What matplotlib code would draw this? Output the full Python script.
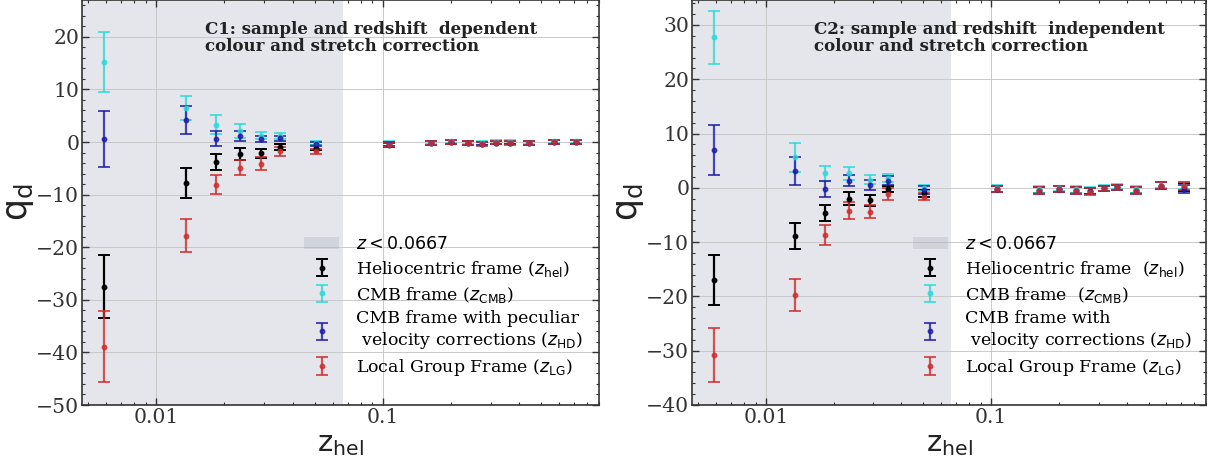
import matplotlib
matplotlib.use("Agg")
import matplotlib.pyplot as plt
from matplotlib.ticker import MultipleLocator, FixedLocator, FixedFormatter, LogLocator, NullFormatter
import numpy as np

plt.rcParams['font.family'] = ['DejaVu Serif']
plt.rcParams['mathtext.fontset'] = 'dejavusans'

# redshift bins (shared by both panels)
z_bins = [0.0059, 0.0135, 0.0184, 0.0233, 0.029, 0.035, 0.0505,
          0.1066, 0.164, 0.2, 0.238, 0.274, 0.316, 0.364, 0.44, 0.57, 0.716]

# C1: sample and redshift dependent correction
c1_hel = [-27.5, -7.8, -3.85, -2.3, -2.1, -1.0, -1.1,
          -0.5, -0.2, 0.0, -0.2, -0.3, -0.1, -0.1, -0.2, 0.0, 0.0]
c1_hel_err = [6.0, 2.8, 1.55, 1.2, 0.85, 0.6, 0.5,
              0.4, 0.35, 0.35, 0.35, 0.35, 0.35, 0.35, 0.35, 0.35, 0.35]
c1_cmb = [15.3, 6.5, 3.3, 2.1, 1.2, 1.1, -0.2,
          -0.3, -0.1, 0.1, -0.1, -0.2, 0.0, 0.0, -0.1, 0.1, 0.1]
c1_cmb_err = [5.7, 2.3, 1.8, 1.4, 0.7, 0.6, 0.4,
              0.4, 0.35, 0.35, 0.35, 0.35, 0.35, 0.35, 0.35, 0.35, 0.35]
c1_hd = [0.6, 4.2, 0.6, 1.1, 0.6, 0.7, -0.4,
         -0.4, -0.2, 0.0, -0.2, -0.3, -0.1, -0.1, -0.2, 0.0, 0.0]
c1_hd_err = [5.35, 2.65, 1.45, 0.95, 0.6, 0.5, 0.4,
             0.4, 0.35, 0.35, 0.35, 0.35, 0.35, 0.35, 0.35, 0.35, 0.35]
c1_lg = [-38.9, -17.8, -8.1, -4.9, -4.1, -1.8, -1.8,
         -0.6, -0.2, 0.0, -0.2, -0.35, -0.1, -0.15, -0.25, 0.0, -0.05]
c1_lg_err = [6.8, 3.1, 1.8, 1.45, 1.25, 0.8, 0.5,
             0.4, 0.35, 0.35, 0.35, 0.35, 0.35, 0.35, 0.35, 0.35, 0.35]

# C2: sample and redshift independent correction
c2_hel = [-16.9, -8.9, -4.7, -2.0, -2.3, -0.25, -1.0,
          -0.2, -0.4, -0.2, -0.4, -0.6, -0.1, 0.1, -0.4, 0.4, 0.2]
c2_hel_err = [4.6, 2.4, 1.45, 1.2, 1.0, 0.6, 0.6,
              0.6, 0.6, 0.5, 0.6, 0.6, 0.5, 0.5, 0.6, 0.6, 0.7]
c2_cmb = [27.7, 5.6, 2.7, 2.7, 1.5, 1.8, 0.0,
          -0.1, -0.3, -0.1, -0.3, -0.5, 0.0, 0.2, -0.3, 0.5, 0.4]
c2_cmb_err = [4.9, 2.6, 1.4, 1.2, 0.8, 0.8, 0.5,
              0.6, 0.6, 0.5, 0.6, 0.6, 0.5, 0.5, 0.6, 0.6, 0.7]
c2_hd = [7.0, 3.1, -0.2, 1.35, 0.5, 1.3, -0.4,
         -0.2, -0.5, -0.2, -0.5, -0.6, -0.1, 0.1, -0.5, 0.4, -0.25]
c2_hd_err = [4.55, 2.5, 1.5, 1.1, 0.9, 0.8, 0.7,
             0.6, 0.6, 0.5, 0.6, 0.6, 0.5, 0.5, 0.6, 0.6, 0.7]
c2_lg = [-30.8, -19.7, -8.7, -4.2, -4.4, -1.1, -1.6,
         -0.25, -0.5, -0.2, -0.5, -0.7, -0.1, 0.1, -0.5, 0.4, 0.35]
c2_lg_err = [5.0, 2.9, 1.8, 1.5, 1.2, 1.1, 0.7,
             0.6, 0.6, 0.5, 0.6, 0.6, 0.5, 0.5, 0.6, 0.6, 0.7]

z_cut = 0.0667
colors = ['black', '#2fd8d8', '#1c1ca8', '#d02c2c']

panels = [
    dict(title="C1: sample and redshift  dependent\ncolour and stretch correction",
         series=[(c1_hel, c1_hel_err), (c1_cmb, c1_cmb_err), (c1_hd, c1_hd_err), (c1_lg, c1_lg_err)],
         labels=[r"Heliocentric frame ($z_{\rm hel}$)",
                 r"CMB frame ($z_{\rm CMB}$)",
                 "CMB frame with peculiar\n velocity corrections ($z_{\\rm HD}$)",
                 r"Local Group Frame ($z_{\rm LG}$)"],
         ylim=(-50, 27), yticks=np.arange(-50, 21, 10),
         rect=[82 / 1223, 60 / 465, 517 / 1223, 405 / 465]),
    dict(title="C2: sample and redshift  independent\ncolour and stretch correction",
         series=[(c2_hel, c2_hel_err), (c2_cmb, c2_cmb_err), (c2_hd, c2_hd_err), (c2_lg, c2_lg_err)],
         labels=[r"Heliocentric frame  ($z_{\rm hel}$)",
                 r"CMB frame  ($z_{\rm CMB}$)",
                 "CMB frame with\n velocity corrections ($z_{\\rm HD}$)",
                 r"Local Group Frame ($z_{\rm LG}$)"],
         ylim=(-40, 34.6), yticks=np.arange(-40, 31, 10),
         rect=[692 / 1223, 60 / 465, 514 / 1223, 405 / 465]),
]

fig = plt.figure(figsize=(12.23, 4.65), dpi=100)

for p in panels:
    ax = fig.add_axes(p['rect'])
    ax.set_xscale('log')
    ax.set_xlim(0.0047, 0.9)
    ax.set_ylim(*p['ylim'])
    ax.axvspan(0.0047, z_cut, facecolor='#a0a8b9', alpha=0.28, lw=0,
               zorder=0, label=r'$z<0.0667$')
    for (vals, errs), col, lab in zip(p['series'], colors, p['labels']):
        al = 1.0 if col == 'black' else 0.8
        ax.errorbar(z_bins, vals, yerr=errs, fmt='o', color=col, ms=3.2,
                    elinewidth=1.6, capsize=4, capthick=1.4, alpha=al,
                    label=lab, zorder=3)

    ax.xaxis.set_major_locator(FixedLocator([0.01, 0.1]))
    ax.xaxis.set_major_formatter(FixedFormatter(['0.01', '0.1']))
    ax.xaxis.set_minor_locator(LogLocator(base=10, subs=np.arange(2, 10)))
    ax.xaxis.set_minor_formatter(NullFormatter())
    ax.set_yticks(p['yticks'])
    ax.yaxis.set_minor_locator(MultipleLocator(2))
    ax.tick_params(which='both', direction='in', top=True, right=True,
                   colors='#333333', labelsize=14.7, pad=2)
    ax.tick_params(which='major', length=5, width=1.0)
    ax.tick_params(which='minor', length=2.5, width=0.8)
    for sp in ax.spines.values():
        sp.set_color('#333333')
        sp.set_linewidth(1.2)
    ax.grid(True, which='major', color='#c9c9c9', lw=0.7)
    ax.set_axisbelow(True)

    ax.set_xlabel(r'$\mathsf{z}_{\mathsf{hel}}$', fontsize=21, color='#222222', labelpad=2)
    ax.set_ylabel(r'$\mathsf{q}_{\mathsf{d}}$', fontsize=25, color='#222222', labelpad=0)

    ax.text(0.237, 0.948, p['title'], transform=ax.transAxes, fontsize=12,
            fontweight='bold', va='top', ha='left', color='#222222', linespacing=1.0)

    ax.legend(loc='upper left', bbox_to_anchor=(0.43, 0.417), frameon=False,
              fontsize=12.5, handlelength=2.0, handletextpad=1.0,
              labelspacing=0.33, borderpad=0, borderaxespad=0)

fig.savefig('out.png', dpi=100)
